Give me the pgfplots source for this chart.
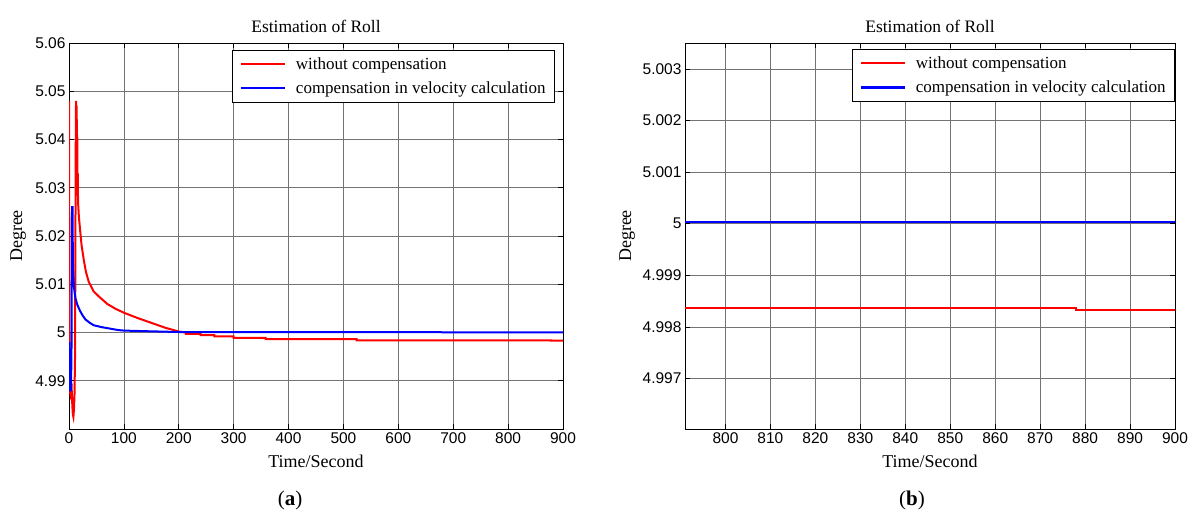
\documentclass[border=0pt]{standalone}
\usepackage{fontspec}
\usepackage{pgfplots}
\pgfplotsset{compat=1.18}
\setmainfont{Liberation Serif}
\newfontfamily\ticksans{Liberation Sans}
\definecolor{mred}{RGB}{255,0,0}
\definecolor{mblue}{RGB}{0,0,255}
\pgfplotsset{
  myaxis/.style={
    scale only axis,
    anchor=south west,
    width=490pt, height=386pt,
    axis line style={line width=0.8pt},
    tick pos=both, tick align=inside,
    major tick length=5pt,
    tick style={black, line width=0.6pt},
    grid=major,
    major grid style={black!55, line width=0.6pt},
    tick label style={font=\ticksans\fontsize{15.5}{15.5}\selectfont},
    /pgf/number format/assume math mode=true,
    scaled ticks=false,
    title style={font=\fontsize{17.5}{17.5}\selectfont, anchor=south, yshift=1pt},
    title={Estimation of Roll},
    xlabel={Time/Second},
    ylabel={Degree},
    label style={font=\fontsize{18}{18}\selectfont},
    xlabel style={at={(axis description cs:0.5,-0.085)}, anchor=center},
    legend style={draw=black, line width=0.8pt, fill=white,
      font=\fontsize{17}{17}\selectfont, anchor=north east,
      cells={anchor=west}, inner xsep=7pt, inner ysep=5pt, row sep=7pt,
      column sep=8pt},
    legend image code/.code={\draw[#1, line width=2.2pt] (0pt,0pt) -- (44pt,0pt);},
  },
}
\begin{document}
\begin{tikzpicture}
\useasboundingbox (0pt,0pt) rectangle (1193pt,517pt);
% (a)
\begin{axis}[myaxis,
  at={(69pt,88pt)}, width=494pt,
  xmin=0, xmax=900, ymin=4.98, ymax=5.06,
  xtick={0,100,...,900},
  ytick={4.99,5,5.01,5.02,5.03,5.04,5.05,5.06},
  yticklabel style={/pgf/number format/.cd, fixed, precision=2},
  ylabel style={at={(axis description cs:-0.103,0.5)}, anchor=center},
  legend style={at={(0.984,0.982)}},
]
\addplot[mred, line width=2pt] coordinates {
(0,5.048) (1,4.995) (1.5,4.988) (3,4.987) (5,4.988) (6,4.985) (7,4.983) (8,4.9825)
(9,4.984) (10,4.987) (11,4.995) (12,5.03) (12.5,5.046) (13,5.048) (13.5,5.04)
(14,5.047) (14.5,5.035) (15,5.041) (15.5,5.03) (16,5.033) (16.5,5.027) (17,5.026)
(18,5.024) (20,5.0215) (23,5.018) (27,5.015)
(31,5.0125) (36,5.0105) (45,5.0085) (56,5.0073) (70,5.0059) (85,5.0049)
(100,5.0041) (125,5.003) (150,5.002) (175,5.001) (200,5.0002)
(213,5.0000) (213,4.9997) (240,4.9997) (240,4.99945) (265,4.99945) (265,4.9992)
(300,4.9992) (300,4.9989) (358,4.9989) (358,4.99865) (524,4.99865) (524,4.99838)
(878,4.99836) (878,4.99833) (900,4.99833)
};
\addlegendentry{without compensation}
\addplot[mblue, line width=2pt] coordinates {
(0,4.998) (1,4.990) (2,4.988) (3.5,4.988) (4.5,4.995) (5.5,5.026) (6.5,5.026)
(7,5.015) (7.5,5.0135) (8,5.012) (9,5.0095) (10,5.0085) (12,5.007) (15,5.0058)
(20,5.0045) (25,5.0035) (30,5.0027) (38,5.002) (45,5.0015) (60,5.0011)
(75,5.0008) (90,5.0005) (100,5.0004) (130,5.0003) (200,5.0001) (900,5.00003)
};
\addlegendentry{compensation in velocity calculation}
\end{axis}
% (b)
\begin{axis}[myaxis,
  at={(685pt,88pt)},
  xmin=791, xmax=900, ymin=4.99602, ymax=5.0035,
  xtick={800,810,...,900},
  ytick={4.997,4.998,4.999,5,5.001,5.002,5.003},
  yticklabel style={/pgf/number format/.cd, fixed, precision=3},
  ylabel style={at={(axis description cs:-0.118,0.5)}, anchor=center},
  legend style={at={(1,0.984)}},
]
\addplot[mred, line width=2pt] coordinates {
(791,4.99836) (878,4.99836) (878,4.99833) (900,4.99833)
};
\addlegendentry{without compensation}
\addplot[mblue, line width=2pt] coordinates {
(791,5.00003) (900,5.00003)
};
\addlegendentry{compensation in velocity calculation}
\end{axis}
\node[font=\fontsize{21}{21}\selectfont] at (290pt,17pt) {(\textbf{a})};
\node[font=\fontsize{21}{21}\selectfont] at (912pt,17pt) {(\textbf{b})};
\end{tikzpicture}
\end{document}
